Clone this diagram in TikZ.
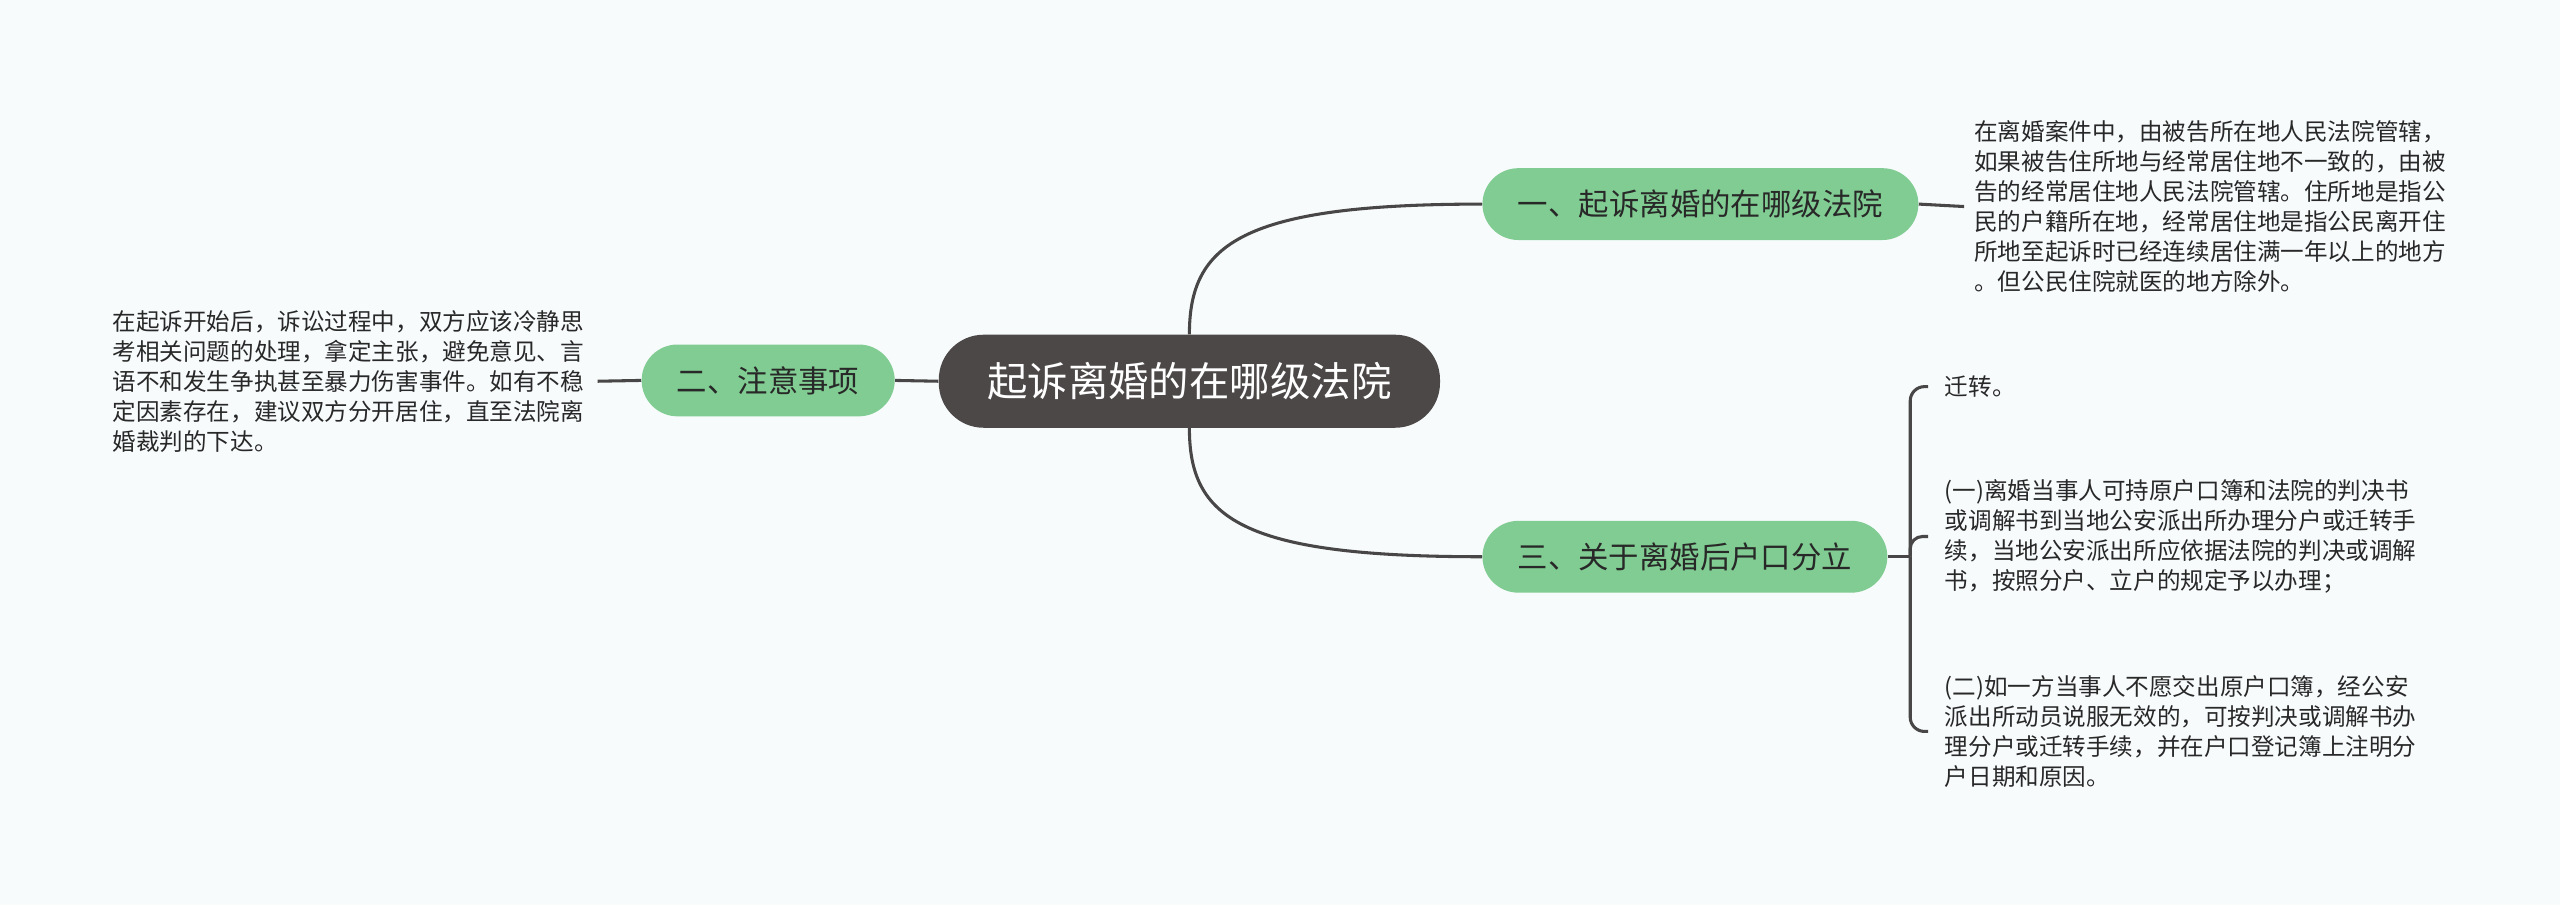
\documentclass[tikz,border=0pt]{standalone}
\usepackage{fontspec}
\newfontfamily\cjk{Noto Sans CJK SC}
\begin{document}
\begin{tikzpicture}[x=0.8pt,y=-0.8pt,
  conn/.style={draw=linec,line width=1.5pt},
  root/.style={fill=rootc,text=white,rounded corners=22pt,minimum width=245.6pt,minimum height=45.6pt,inner sep=0pt,font=\cjk\fontsize{19.8pt}{24pt}\selectfont},
  topic/.style={fill=greenc,text=textc,rounded corners=17.6pt,minimum height=35.2pt,inner sep=0pt,font=\cjk\fontsize{14.9pt}{18pt}\selectfont},
  leaf/.style={text=textc,align=left,inner ysep=0pt,font=\cjk\fontsize{11.55pt}{14.7pt}\selectfont}]
\definecolor{bgc}{RGB}{247,251,252}
\definecolor{rootc}{RGB}{77,72,72}
\definecolor{greenc}{RGB}{128,204,146}
\definecolor{linec}{RGB}{72,70,70}
\definecolor{textc}{RGB}{40,40,40}
\fill[bgc] (0,0) rectangle (1568,554);
\useasboundingbox (0,0) rectangle (1568,554);
\node[root] (c) at (728.5,233.5) {起诉离婚的在哪级法院};
\node[topic,minimum width=213.6pt] (n1) at (1041.5,125) {一、起诉离婚的在哪级法院};
\node[topic,minimum width=198.4pt] (n3) at (1032,341) {三、关于离婚后户口分立};
\node[topic,minimum width=124pt] (n2) at (470.5,233) {二、注意事项};
\node[leaf,anchor=west,inner xsep=4.8pt] (t1) at (1203,126.5) {在离婚案件中，由被告所在地人民法院管辖，\\如果被告住所地与经常居住地不一致的，由被\\告的经常居住地人民法院管辖。住所地是指公\\民的户籍所在地，经常居住地是指公民离开住\\所地至起诉时已经连续居住满一年以上的地方\\。但公民住院就医的地方除外。};
\node[leaf,anchor=east,inner xsep=6.4pt] (t2) at (366,233.5) {在起诉开始后，诉讼过程中，双方应该冷静思\\考相关问题的处理，拿定主张，避免意见、言\\语不和发生争执甚至暴力伤害事件。如有不稳\\定因素存在，建议双方分开居住，直至法院离\\婚裁判的下达。};
\node[leaf,anchor=west,inner xsep=8pt] (s1) at (1181,236.8) {迁转。};
\node[leaf,anchor=west,inner xsep=8pt] (s2) at (1181,328.6) {(一)离婚当事人可持原户口簿和法院的判决书\\或调解书到当地公安派出所办理分户或迁转手\\续，当地公安派出所应依据法院的判决或调解\\书，按照分户、立户的规定予以办理；};
\node[leaf,anchor=west,inner xsep=8pt] (s3) at (1181,448) {(二)如一方当事人不愿交出原户口簿，经公安\\派出所动员说服无效的，可按判决或调解书办\\理分户或迁转手续，并在户口登记簿上注明分\\户日期和原因。};
\coordinate (j) at (1170,341);
\draw[conn] (c.north) .. controls +(0,-55) and +(-148,0) .. (n1.west);
\draw[conn] (c.south) .. controls +(0,55) and +(-148,0) .. (n3.west);
\draw[conn] (c.west) -- (n2.east);
\draw[conn] (n2.west) -- (t2.east);
\draw[conn] (n1.east) -- (t1.west);
\draw[conn] (n3.east) -- (j);
\draw[conn,rounded corners=7pt] (j) |- (s1.west);
\draw[conn,rounded corners=6pt] (j) |- (s2.west);
\draw[conn,rounded corners=7pt] (j) |- (s3.west);
\end{tikzpicture}
\end{document}
